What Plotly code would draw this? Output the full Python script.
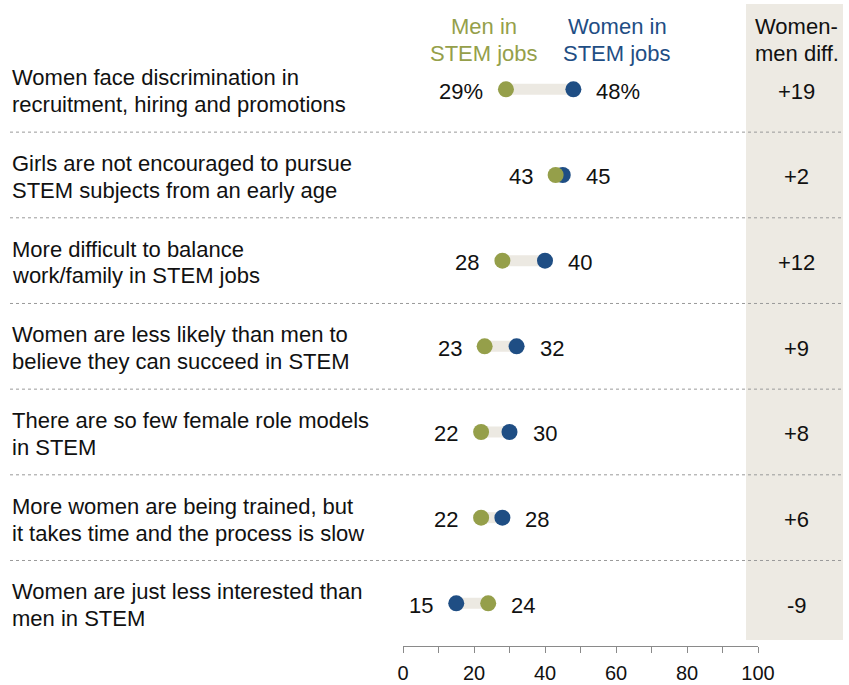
import plotly.graph_objects as go

# Survey items, top to bottom (each item is shown on two lines)
categories = [
    ["Women face discrimination in", "recruitment, hiring and promotions"],
    ["Girls are not encouraged to pursue", "STEM subjects from an early age"],
    ["More difficult to balance", "work/family in STEM jobs"],
    ["Women are less likely than men to", "believe they can succeed in STEM"],
    ["There are so few female role models", "in STEM"],
    ["More women are being trained, but", "it takes time and the process is slow"],
    ["Women are just less interested than", "men in STEM"],
]
men = [29, 43, 28, 23, 22, 22, 24]
women = [48, 45, 40, 32, 30, 28, 15]
tick_values = [0, 20, 40, 60, 80, 100]

GREEN = "#959F4A"
BLUE = "#1F4E84"
TRACK = "#ECE9E2"
PANEL = "#EDEAE3"
INK = "#111111"
FONT = "Liberation Sans"
FS = 22
LINE_GAP = 26.7  # px between text lines

W, H = 849, 685
ML, MR, MT, MB = 403, 91, 0, 39
PW = W - ML - MR
PH = H - MT - MB

# vertical layout: first row centre and row pitch in pixels
ROW0 = 89.3
PITCH = 85.67
y_top = -ROW0 / PITCH
y_bot = (PH - ROW0) / PITCH


def ypaper(y):
    return (y - y_bot) / (y_top - y_bot)


def xpaper(px):
    return (px - ML) / PW


def ydata(px):
    return (px - ROW0) / PITCH


rows = list(range(len(categories)))

fig = go.Figure()

# connector track between the two dots
lx, ly = [], []
for i in rows:
    lx += [men[i], women[i], None]
    ly += [i, i, None]
fig.add_trace(go.Scatter(x=lx, y=ly, mode="lines",
                         line=dict(color=TRACK, width=11),
                         hoverinfo="skip", showlegend=False))
fig.add_trace(go.Scatter(x=women, y=rows, mode="markers",
                         marker=dict(color=BLUE, size=16),
                         name="Women in STEM jobs", showlegend=False))
fig.add_trace(go.Scatter(x=men, y=rows, mode="markers",
                         marker=dict(color=GREEN, size=16),
                         name="Men in STEM jobs", showlegend=False))

shapes = []
# shaded difference column
shapes.append(dict(type="rect", xref="paper", yref="paper",
                   x0=xpaper(746), x1=xpaper(843),
                   y0=1 - 4 / PH, y1=1 - 640 / PH,
                   fillcolor=PANEL, line=dict(width=0), layer="below"))
# dotted separators between rows
for i in rows[:-1]:
    yp = ypaper(i + 0.5)
    shapes.append(dict(type="line", xref="paper", yref="paper",
                       x0=xpaper(10), x1=xpaper(843), y0=yp, y1=yp,
                       line=dict(color="#9A9A9A", width=1, dash="dot"),
                       layer="above"))

ann = []
txt = dict(family=FONT, size=FS, color=INK)
TEXT_DROP = -2  # nudge text baselines slightly below the dot centre


def two_lines(lines, x, xref, y, xanchor, font):
    n = len(lines)
    for k, line in enumerate(lines):
        shift = ((n - 1) / 2 - k) * LINE_GAP + TEXT_DROP
        ann.append(dict(xref=xref, yref="y", x=x, y=y, text=line,
                        showarrow=False, xanchor=xanchor, yanchor="middle",
                        yshift=shift, font=font))


for i in rows:
    two_lines(categories[i], xpaper(10), "paper", i, "left", txt)
    lo, hi = min(men[i], women[i]), max(men[i], women[i])
    suffix = "%" if i == 0 else ""
    ann.append(dict(xref="x", yref="y", x=lo, y=i, text=f"{lo}{suffix}",
                    showarrow=False, xanchor="right", xshift=-21,
                    yshift=TEXT_DROP, font=txt))
    ann.append(dict(xref="x", yref="y", x=hi, y=i, text=f"{hi}{suffix}",
                    showarrow=False, xanchor="left", xshift=21,
                    yshift=TEXT_DROP, font=txt))
    d = women[i] - men[i]
    ann.append(dict(xref="paper", yref="y", x=xpaper(796.5), y=i,
                    text=f"+{d}" if d > 0 else f"{d}",
                    showarrow=False, xanchor="center", yshift=TEXT_DROP,
                    font=txt))

hy = ydata(38.0)
two_lines(["Men in", "STEM jobs"], xpaper(484), "paper", hy, "center",
          dict(family=FONT, size=FS, color=GREEN))
two_lines(["Women in", "STEM jobs"], xpaper(617), "paper", hy, "center",
          dict(family=FONT, size=FS, color=BLUE))
two_lines(["Women-", "men diff."], xpaper(796.5), "paper", hy, "center", txt)

fig.update_layout(
    width=W, height=H,
    margin=dict(l=ML, r=MR, t=MT, b=MB),
    paper_bgcolor="white", plot_bgcolor="white",
    shapes=shapes, annotations=ann,
    xaxis=dict(range=[0, 100], tickvals=tick_values, showgrid=False,
               zeroline=False, showline=True, linecolor="#8A8A8A",
               linewidth=1, ticks="outside", ticklen=6, tickcolor="#8A8A8A",
               ticklabelstandoff=3, automargin=False,
               minor=dict(dtick=10, ticks="outside", ticklen=6,
                          tickcolor="#8A8A8A"),
               tickfont=dict(family=FONT, size=20, color=INK)),
    yaxis=dict(range=[y_bot, y_top], visible=False, automargin=False),
)

fig.write_html("out.html")
